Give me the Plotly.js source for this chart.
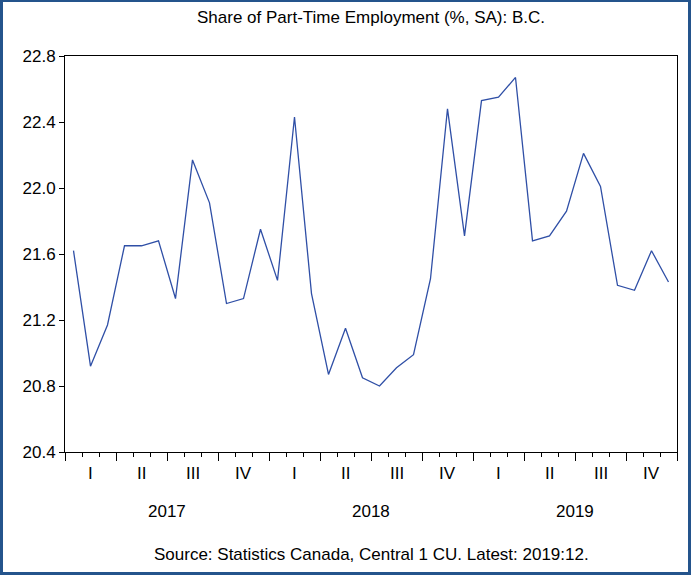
<!DOCTYPE html>
<html>
<head>
<meta charset="utf-8">
<script src="https://cdn.plot.ly/plotly-3.0.1.min.js"></script>
<style>
  html, body { margin: 0; padding: 0; background: #fff; }
  #wrap { position: relative; width: 691px; height: 579px; }
  #chart { position: absolute; left: 0; top: 0; width: 691px; height: 579px; }
  #frame { position: absolute; left: 0; top: 0; width: 691px; height: 575px; box-sizing: border-box;
           border: 3px solid #24548C; border-top-width: 2px; pointer-events: none; }
</style>
</head>
<body>
<div id="wrap">
  <div id="chart"></div>
  <div id="frame"></div>
</div>
<script>
// Monthly share of part-time employment (%, SA), B.C., 2017:01 - 2019:12
const years = ['2017', '2018', '2019'];
const quarters = ['I', 'II', 'III', 'IV'];
const values2017 = [21.62, 20.92, 21.17, 21.65, 21.65, 21.68, 21.33, 22.17, 21.91, 21.30, 21.33, 21.75];
const values2018 = [21.44, 22.43, 21.36, 20.87, 21.15, 20.85, 20.80, 20.91, 20.99, 21.45, 22.48, 21.71];
const values2019 = [22.53, 22.55, 22.67, 21.68, 21.71, 21.86, 22.21, 22.01, 21.41, 21.38, 21.62, 21.43];
const titleText = 'Share of Part-Time Employment (%, SA): B.C.';
const sourceText = 'Source: Statistics Canada, Central 1 CU. Latest: 2019:12.';

const values = values2017.concat(values2018, values2019);
const xIdx = values.map((v, i) => i + 0.5);   // month centres on a month-index axis
const nMonths = values.length;

const FONT = 'Liberation Sans, Arial, sans-serif';

const annotations = [];
years.forEach((yr, yi) => {
  quarters.forEach((q, qi) => {
    annotations.push({
      text: q, xref: 'x', yref: 'paper', x: yi * 12 + qi * 3 + 1.5, y: 0,
      yshift: -21, yanchor: 'middle', xanchor: 'center', showarrow: false,
      font: { family: FONT, size: 17, color: '#000' }
    });
  });
  annotations.push({
    text: yr, xref: 'x', yref: 'paper', x: yi * 12 + 6, y: 0,
    yshift: -59, yanchor: 'middle', xanchor: 'center', showarrow: false,
    font: { family: FONT, size: 17, color: '#000' }
  });
});
annotations.push({
  text: sourceText, xref: 'paper', yref: 'paper', x: 0.5, y: 0,
  yshift: -102, yanchor: 'middle', xanchor: 'center', showarrow: false,
  font: { family: FONT, size: 17, color: '#000' }
});

const trace = {
  x: xIdx, y: values, type: 'scatter', mode: 'lines',
  line: { color: '#2F4FA6', width: 1.3 },
  hoverinfo: 'y'
};

const layout = {
  width: 691, height: 579,
  margin: { l: 65, r: 13.5, t: 55.5, b: 127, pad: 0 },
  paper_bgcolor: '#fff', plot_bgcolor: '#fff',
  showlegend: false,
  font: { family: FONT, size: 17, color: '#000' },
  title: {
    text: titleText, x: 0.5, xref: 'paper', y: 1 - 17 / 579, yref: 'container',
    xanchor: 'center', yanchor: 'middle',
    font: { family: FONT, size: 17, color: '#000' }
  },
  xaxis: {
    range: [0, nMonths], tickmode: 'linear', tick0: 0, dtick: 3,
    ticks: 'outside', ticklen: 8, tickwidth: 1, tickcolor: '#000',
    minor: { dtick: 1, tick0: 0, ticks: 'outside', ticklen: 4, tickwidth: 1, tickcolor: '#000', showgrid: false },
    showticklabels: false, showgrid: false, zeroline: false,
    showline: true, linecolor: '#000', linewidth: 1, mirror: true, fixedrange: true
  },
  yaxis: {
    range: [20.4, 22.8], tickmode: 'linear', tick0: 20.4, dtick: 0.4, tickformat: '.1f',
    ticks: 'outside', ticklen: 5, tickwidth: 1, tickcolor: '#000',
    showgrid: false, zeroline: false,
    showline: true, linecolor: '#000', linewidth: 1, mirror: true, fixedrange: true,
    tickfont: { family: FONT, size: 17, color: '#000' }
  },
  annotations: annotations
};

Plotly.newPlot('chart', [trace], layout, { displayModeBar: false, staticPlot: true });
</script>
</body>
</html>
